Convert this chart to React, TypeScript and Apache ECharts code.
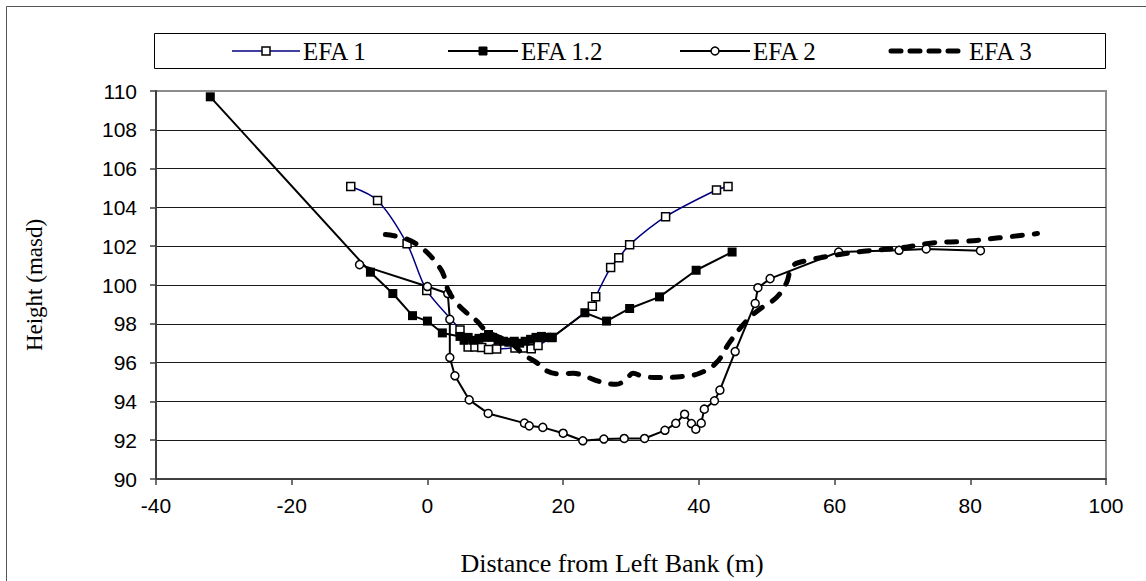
import React, { useEffect, useRef } from "react";
import * as echarts from "echarts";

// ---- Data ----
const seriesNames = ["EFA 1", "EFA 1.2", "EFA 2", "EFA 3"];

const efa1X = [-11.3, -7.35, -3.0, -0.1, 4.8, 6.0, 7.0, 8.0, 9.0, 10.2, 12.9, 14.1, 15.3, 16.3, 18.3, 24.3, 24.8, 27.0, 28.2, 29.8, 35.1, 42.6, 44.3];
const efa1Y = [105.08, 104.36, 102.12, 99.72, 97.68, 96.8, 96.8, 96.78, 96.68, 96.7, 96.75, 96.75, 96.72, 96.88, 97.3, 98.9, 99.4, 100.9, 101.4, 102.08, 103.52, 104.9, 105.08];

const efa12X = [-32.0, -8.4, -5.1, -2.2, 0.0, 2.2, 4.8, 5.4, 6.0, 6.8, 7.6, 8.4, 9.0, 9.6, 10.4, 11.2, 12.0, 12.8, 13.6, 14.4, 15.2, 16.0, 16.8, 17.6, 18.4, 23.2, 26.4, 29.8, 34.2, 39.6, 44.9];
const efa12Y = [109.7, 100.66, 99.56, 98.42, 98.14, 97.53, 97.35, 97.15, 97.3, 97.15, 97.25, 97.3, 97.45, 97.3, 97.15, 97.1, 97.05, 97.1, 97.0, 97.1, 97.2, 97.3, 97.35, 97.3, 97.3, 98.57, 98.14, 98.79, 99.39, 100.76, 101.7];

const efa2X = [-10.0, 0.0, 3.0, 3.3, 3.3, 4.05, 6.15, 8.95, 14.3, 15.0, 17.0, 20.0, 22.9, 26.0, 29.0, 32.0, 35.0, 36.6, 37.9, 38.9, 39.55, 40.35, 40.8, 42.3, 43.1, 45.35, 48.3, 48.7, 50.5, 60.6, 69.5, 73.5, 81.5];
const efa2Y = [101.05, 99.92, 99.56, 98.23, 96.26, 95.32, 94.08, 93.38, 92.88, 92.74, 92.66, 92.36, 91.97, 92.06, 92.09, 92.09, 92.51, 92.87, 93.34, 92.86, 92.57, 92.88, 93.6, 94.03, 94.58, 96.57, 99.05, 99.86, 100.33, 101.7, 101.79, 101.86, 101.77];

const efa3X = [-6.2, -2.0, 1.9, 3.1, 4.3, 5.5, 7.3, 8.7, 10.7, 12.6, 14.1, 16.1, 17.6, 19.5, 21.5, 23.2, 25.4, 27.8, 29.3, 30.3, 31.8, 34.2, 37.6, 40.1, 42.6, 44.5, 47.0, 48.9, 51.4, 52.9, 53.8, 55.8, 60.7, 64.6, 69.5, 74.4, 79.3, 84.2, 89.9];
const efa3Y = [102.6, 102.2, 100.85, 99.7, 99.08, 98.65, 98.14, 97.62, 97.29, 96.94, 96.43, 96.0, 95.57, 95.42, 95.45, 95.3, 95.02, 94.88, 95.14, 95.45, 95.28, 95.23, 95.28, 95.45, 96.0, 97.03, 98.14, 98.74, 99.34, 100.1, 100.97, 101.25, 101.57, 101.75, 101.9, 102.17, 102.25, 102.43, 102.65];

const xTicks = { min: -40, max: 100, interval: 20 };
const yTicks = { min: 90, max: 110, interval: 2 };

const xTitle = "Distance from Left Bank (m)";
const yTitle = "Height (masd)";

const zip = (xs: number[], ys: number[]) => xs.map((x, i) => [x, ys[i]]);

const SERIF = "'Liberation Serif', 'Times New Roman', serif";
const SANS = "'Liberation Sans', Arial, sans-serif";

export default function App() {
  const ref = useRef<HTMLDivElement>(null);

  useEffect(() => {
    if (!ref.current) return;
    const chart = echarts.init(ref.current, undefined, { renderer: "svg" });

    const legendY = 51;
    const legendItems = [
      { name: seriesNames[0], x0: 232, x1: 300, color: "#000080", width: 1.5, marker: "openRect" },
      { name: seriesNames[1], x0: 448, x1: 518, color: "#000", width: 2, marker: "fillRect" },
      { name: seriesNames[2], x0: 680, x1: 750, color: "#000", width: 2, marker: "openCircle" },
      { name: seriesNames[3], x0: 891, x1: 966, color: "#000", width: 5, marker: "dash" },
    ];

    const legendGraphics: any[] = [];
    legendItems.forEach((it) => {
      const cx = (it.x0 + it.x1) / 2;
      legendGraphics.push({
        type: "line",
        shape: { x1: it.x0, y1: legendY, x2: it.x1, y2: legendY },
        style: it.marker === "dash"
          ? { stroke: it.color, lineWidth: it.width, lineDash: [10, 9], lineCap: "round" }
          : { stroke: it.color, lineWidth: it.width },
      });
      if (it.marker === "openRect") {
        legendGraphics.push({ type: "rect", shape: { x: cx - 4, y: legendY - 4, width: 8, height: 8 }, style: { fill: "#fff", stroke: "#000", lineWidth: 1.5 } });
      } else if (it.marker === "fillRect") {
        legendGraphics.push({ type: "rect", shape: { x: cx - 4, y: legendY - 4, width: 8, height: 8 }, style: { fill: "#000", stroke: "#000", lineWidth: 1 } });
      } else if (it.marker === "openCircle") {
        legendGraphics.push({ type: "circle", shape: { cx, cy: legendY, r: 4 }, style: { fill: "#fff", stroke: "#000", lineWidth: 1.5 } });
      }
      legendGraphics.push({
        type: "text",
        x: it.x1 + 3,
        y: legendY,
        style: { text: it.name, fill: "#000", font: `25px ${SERIF}`, verticalAlign: "middle", align: "left" },
      });
    });

    const option: any = {
      animation: false,
      backgroundColor: "#fff",
      grid: {
        left: 156,
        right: 40,
        top: 91,
        bottom: 100,
        show: true,
        borderColor: "#8c8c8c",
        borderWidth: 2,
        backgroundColor: "transparent",
      },
      xAxis: {
        type: "value",
        min: xTicks.min,
        max: xTicks.max,
        interval: xTicks.interval,
        axisLine: { show: true, onZero: false, lineStyle: { color: "#404040", width: 2 } },
        axisTick: { show: true, inside: false, length: 6, lineStyle: { color: "#404040", width: 1.5 } },
        axisLabel: { color: "#000", fontFamily: SANS, fontSize: 21, margin: 16 },
        splitLine: { show: false },
        name: xTitle,
        nameLocation: "middle",
        nameGap: 71,
        nameTextStyle: { color: "#000", fontFamily: SERIF, fontSize: 26, padding: [0, 38, 0, 0] },
      },
      yAxis: {
        type: "value",
        min: yTicks.min,
        max: yTicks.max,
        interval: yTicks.interval,
        axisLine: { show: true, onZero: false, lineStyle: { color: "#404040", width: 2 } },
        axisTick: { show: true, inside: false, length: 6, lineStyle: { color: "#404040", width: 1.5 } },
        axisLabel: { color: "#000", fontFamily: SANS, fontSize: 21, margin: 19 },
        splitLine: { show: true, showMinLine: false, showMaxLine: false, lineStyle: { color: "#1a1a1a", width: 1 } },
        name: yTitle,
        nameLocation: "middle",
        nameRotate: 90,
        nameGap: 110,
        nameTextStyle: { color: "#000", fontFamily: SERIF, fontSize: 23 },
      },
      graphic: [
        { type: "rect", shape: { x: 6.5, y: 6.5, width: 1300, height: 800 }, style: { fill: "none", stroke: "#555", lineWidth: 1 }, silent: true },
        { type: "rect", shape: { x: 154.5, y: 33.5, width: 951, height: 35 }, style: { fill: "#fff", stroke: "#000", lineWidth: 1 } },
        ...legendGraphics,
      ],
      series: [
        {
          name: seriesNames[0],
          type: "line",
          data: zip(efa1X, efa1Y),
          smooth: 0.3,
          symbol: "rect",
          symbolSize: 8,
          showAllSymbol: true,
          lineStyle: { color: "#000080", width: 1.5 },
          itemStyle: { color: "#fff", borderColor: "#000", borderWidth: 1.5 },
          z: 2,
        },
        {
          name: seriesNames[1],
          type: "line",
          data: zip(efa12X, efa12Y),
          symbol: "rect",
          symbolSize: 9,
          showAllSymbol: true,
          lineStyle: { color: "#000", width: 2 },
          itemStyle: { color: "#000", borderColor: "#000", borderWidth: 0 },
          z: 3,
        },
        {
          name: seriesNames[2],
          type: "line",
          data: zip(efa2X, efa2Y),
          symbol: "circle",
          symbolSize: 8,
          showAllSymbol: true,
          lineStyle: { color: "#000", width: 2 },
          itemStyle: { color: "#fff", borderColor: "#000", borderWidth: 1.5 },
          z: 4,
        },
        {
          name: seriesNames[3],
          type: "line",
          data: zip(efa3X, efa3Y),
          smooth: 0.4,
          symbol: "none",
          lineStyle: { color: "#000", width: 5, type: [10, 12], cap: "round" },
          z: 5,
        },
      ],
    };

    chart.setOption(option);
    return () => chart.dispose();
  }, []);

  return (
    <div
      ref={ref}
      style={{ position: "absolute", left: 0, top: 0, width: 1146, height: 581 }}
    />
  );
}
